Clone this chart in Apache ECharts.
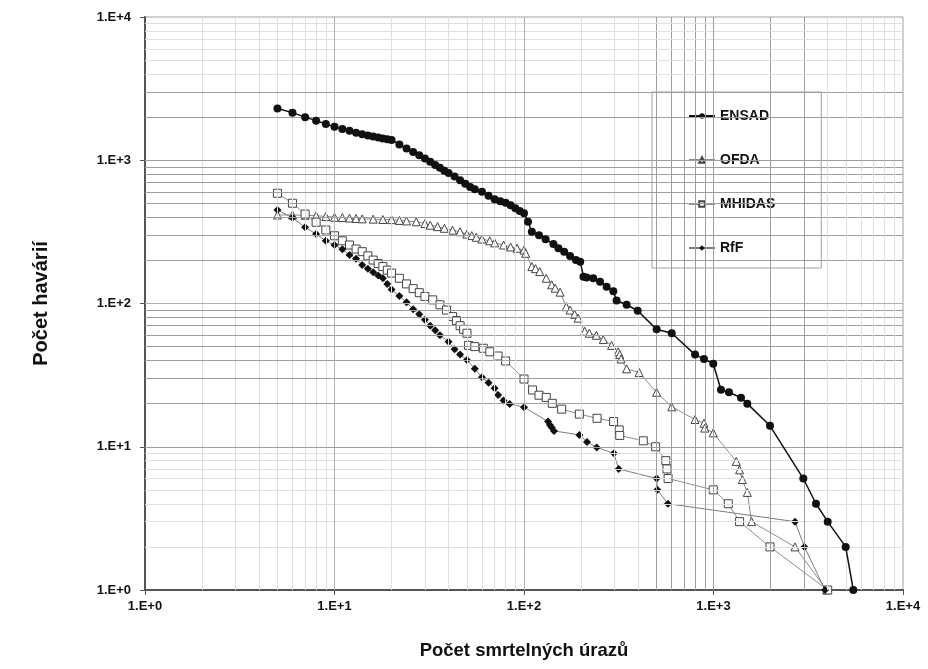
<!DOCTYPE html>
<html><head><meta charset="utf-8">
<script src="https://cdn.jsdelivr.net/npm/echarts@6/dist/echarts.min.js"></script>
<style>html,body{margin:0;padding:0;background:#fff}#c{width:928px;height:669px}</style>
</head><body><div id="c"></div>
<script>
// ---- data ----
const ensadX = [5,6,7,8,9,10,11,12,13,14,15,16,17,18,19,20,22,24,26,28,30,32,34,36,38,40,43,46,49,52,55,60,65,70,75,80,85,90,95,100,105,110,120,130,143,152,163,175,188,198,206,214,232,252,273,296,308,348,398,501,602,799,891,997,1095,1207,1397,1508,1987,2978,3475,4005,4984,5467];
const ensadY = [2300,2150,2000,1890,1790,1715,1653,1608,1557,1518,1490,1465,1440,1420,1400,1385,1290,1210,1140,1085,1030,975,925,885,845,815,770,725,685,650,627,603,565,534,518,505,485,462,442,426,372,317,300,281,260,243,230,215,201,196,154,152,150,142,131,122,105,98,89,66,62,44,41,38,25,24,22,20,14,6,4,3,2,1];

const ofdaX = [5,6,7,8,9,10,11,12,13,14,16,18,20,22,24,27,30,32,35,38,42,46,50,53,56,60,66,70,78,85,92,100,102,110,115,121,131,140,146,155,167,175,185,193,209,221,241,262,290,314,320,325,348,405,501,602,799,891,900,997,1318,1373,1419,1508,1588,2692,3956];
const ofdaY = [415,415,413,410,405,400,398,395,392,390,388,386,385,380,377,372,362,352,344,335,325,317,305,298,290,282,274,265,256,248,243,236,224,181,175,167,150,135,128,120,95,90,84,79,64,62,60,56,51,46,44,41,35,33,24,19,15.5,14.6,13.5,12.5,7.9,6.9,5.9,4.8,3,2,1];

const mhidasX = [5,6,7,8,9,10,11,12,13,14,15,16,17,18,19,20,22,24,26,28,30,33,36,39,42,44,46,48,50,51,55,61,66,73,80,100,111,120,131,141,158,196,243,297,318,320,426,495,560,568,576,997,1197,1373,1987,4005];
const mhidasY = [588,501,421,369,326,297,274,256,240,230,215,201,190,181,171,163,150,137,127,119,112,106,98,90,81,76,70,66,62,51,50,48.7,46,43,39.7,29.7,24.9,22.9,22.1,20.1,18.3,16.9,15.8,15,13.1,12,11,10,8,7,6,5,4,3,2,1];

const rffX = [5,6,7,8,9,10,11,12,13,14,15,16,17,18,19,20,22,24,26,28,30,32,34,36,40,43,46,50,55,60,65,70,73,78,84,100,134,137,140,144,196,215,242,298,316,501,506,575,2692,3020,3880];
const rffY = [450,397,340,305,274,256,239,218,205,186,175,165,157,150,137,125,113,102,91,84,77,70,65,60,54,48,44,40.3,35,30.5,28,25.6,23,21,19.9,18.9,15,14.2,13.6,12.9,12.1,10.8,9.9,9,7,6,5,4,3,2,1];

const seriesNames = ['ENSAD','OFDA','MHIDAS','RfF'];
const tickLabels = ['1.E+0','1.E+1','1.E+2','1.E+3','1.E+4'];
const xTitle = 'Počet smrtelných úrazů';
const yTitle = 'Počet havárií';

// ---- grid lines (style) ----
const decades = [1,10,100,1000];
const minorVals = [];
decades.forEach(d => { for (let k = 2; k <= 9; k++) minorVals.push(k*d); });
const darkX = [500,600,700,800,900,2000,3000];
const darkY = [20,30,40,50,60,70,80,90,200,300,400,500,600,700,800,900,2000,3000];
const majors = [10,100,1000];
const LIGHT = '#dedede', DARK = '#9e9e9e', MAJOR = '#b0b0b0';
const gridLines = [];
minorVals.forEach(v => {
  gridLines.push({xAxis: v, lineStyle: {color: darkX.includes(v) ? DARK : LIGHT, width: 1, type: 'solid'}});
  gridLines.push({yAxis: v, lineStyle: {color: darkY.includes(v) ? DARK : LIGHT, width: 1, type: 'solid'}});
});
majors.forEach(v => {
  gridLines.push({xAxis: v, lineStyle: {color: v === 1000 ? DARK : MAJOR, width: 1, type: 'solid'}});
  gridLines.push({yAxis: v, lineStyle: {color: v === 10 || v === 1000 ? DARK : MAJOR, width: 1, type: 'solid'}});
});

function zip(xs, ys) { return xs.map((x, i) => [x, ys[i]]); }
const FONT = 'Liberation Sans, Arial, sans-serif';
const labelFmt = v => tickLabels[Math.round(Math.log10(v))];

const chart = echarts.init(document.getElementById('c'), null, {renderer: 'canvas'});
chart.setOption({
  animation: false,
  backgroundColor: '#fff',
  grid: {left: 145, right: 25, top: 17, bottom: 79, show: true, borderColor: '#a0a0a0', borderWidth: 1, backgroundColor: 'transparent'},
  xAxis: {
    type: 'log', logBase: 10, min: 1, max: 10000,
    name: xTitle, nameLocation: 'middle', nameGap: 51,
    nameTextStyle: {fontFamily: FONT, fontWeight: 'bold', fontSize: 18.5, color: '#111'},
    axisLine: {show: true, lineStyle: {color: '#555', width: 2}},
    axisTick: {show: true, length: 5, inside: false, lineStyle: {color: '#555', width: 1}},
    axisLabel: {formatter: labelFmt, fontFamily: FONT, fontWeight: 'bold', fontSize: 13, color: '#111', margin: 10},
    splitLine: {show: false}, minorTick: {show: false}, minorSplitLine: {show: false}
  },
  yAxis: {
    type: 'log', logBase: 10, min: 1, max: 10000,
    name: yTitle, nameLocation: 'middle', nameGap: 94, nameRotate: 90,
    nameTextStyle: {fontFamily: FONT, fontWeight: 'bold', fontSize: 20, color: '#111'},
    axisLine: {show: true, lineStyle: {color: '#555', width: 2}},
    axisTick: {show: true, length: 5, lineStyle: {color: '#555', width: 1}},
    axisLabel: {formatter: labelFmt, fontFamily: FONT, fontWeight: 'bold', fontSize: 13, color: '#111', margin: 14},
    splitLine: {show: false}, minorTick: {show: false}, minorSplitLine: {show: false}
  },
  legend: {
    data: seriesNames, orient: 'vertical', left: 652, top: 92,
    padding: [17, 46, 13, 36], itemGap: 30, itemWidth: 26, itemHeight: 7,
    backgroundColor: '#fff', borderColor: '#a0a0a0', borderWidth: 1,
    textStyle: {fontFamily: FONT, fontWeight: 'bold', fontSize: 14, color: '#111', backgroundColor: '#fff', height: 14, lineHeight: 14},
    selectedMode: false
  },
  series: [
    {name: '_grid', type: 'line', data: [], z: 1, silent: true,
     markLine: {silent: true, symbol: 'none', label: {show: false}, animation: false, data: gridLines}},
    {name: 'ENSAD', type: 'line', z: 5, data: zip(ensadX, ensadY), symbol: 'circle', symbolSize: 8,
     lineStyle: {color: '#111', width: 1.5}, itemStyle: {color: '#111', borderColor: '#111', borderWidth: 0}},
    {name: 'OFDA', type: 'line', z: 4, data: zip(ofdaX, ofdaY), symbol: 'triangle', symbolSize: 8,
     lineStyle: {color: '#8c8c8c', width: 1}, itemStyle: {color: '#fff', borderColor: '#444', borderWidth: 1}},
    {name: 'MHIDAS', type: 'line', z: 4, data: zip(mhidasX, mhidasY), symbol: 'rect', symbolSize: 8,
     lineStyle: {color: '#8c8c8c', width: 1}, itemStyle: {color: '#fff', borderColor: '#444', borderWidth: 1}},
    {name: 'RfF', type: 'line', z: 4, data: zip(rffX, rffY), symbol: 'diamond', symbolSize: 8,
     lineStyle: {color: '#7a7a7a', width: 1}, itemStyle: {color: '#111', borderColor: '#111', borderWidth: 0}}
  ]
});
</script></body></html>
